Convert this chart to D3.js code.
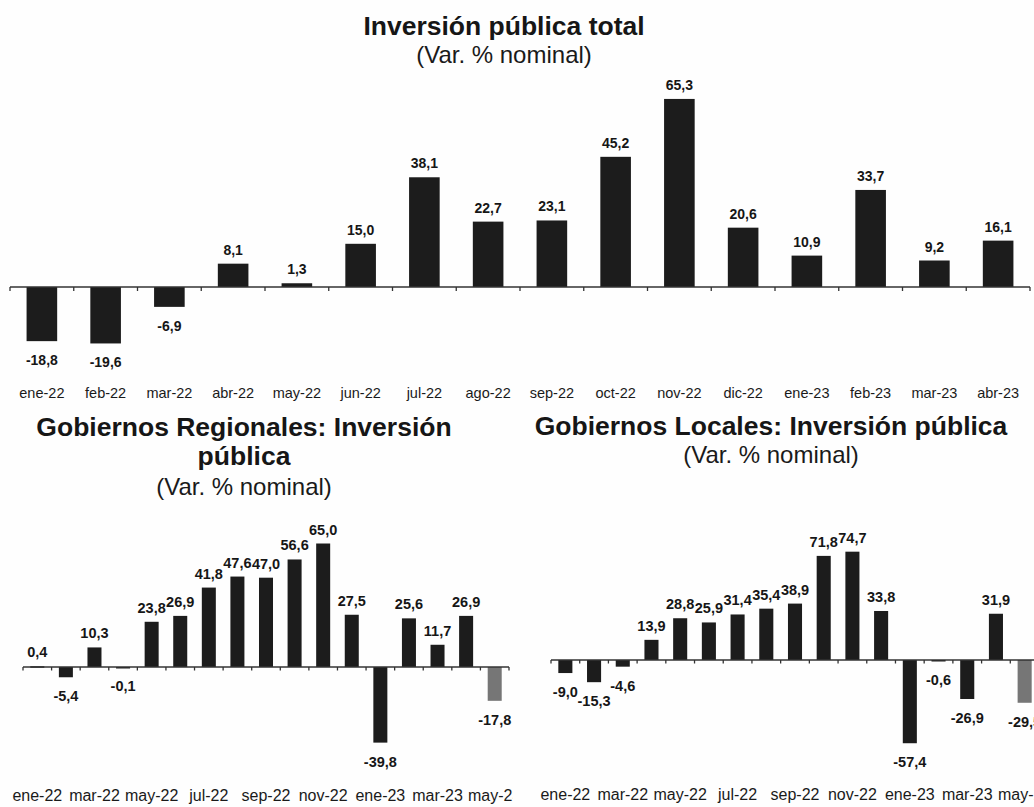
<!DOCTYPE html>
<html>
<head>
<meta charset="utf-8">
<script src="https://cdn.jsdelivr.net/npm/d3@7"></script>
<style>
body { margin: 0; background: #fff; }
svg { display: block; font-family: "Liberation Sans", Arial, sans-serif; }
</style>
</head>
<body>
<svg id="chart" width="1034" height="807"></svg>
<script>
// monthly categories
var totalMonths = ["ene-22", "feb-22", "mar-22", "abr-22", "may-22", "jun-22", "jul-22", "ago-22",
    "sep-22", "oct-22", "nov-22", "dic-22", "ene-23", "feb-23", "mar-23", "abr-23"];
var subMonths = ["ene-22", "feb-22", "mar-22", "abr-22", "may-22", "jun-22", "jul-22", "ago-22",
    "sep-22", "oct-22", "nov-22", "dic-22", "ene-23", "feb-23", "mar-23", "abr-23", "may-23"];

// % nominal variation
var totalValues = [-18.8, -19.6, -6.9, 8.1, 1.3, 15.0, 38.1, 22.7, 23.1, 45.2, 65.3, 20.6, 10.9, 33.7, 9.2, 16.1];
var regionalValues = [0.4, -5.4, 10.3, -0.1, 23.8, 26.9, 41.8, 47.6, 47.0, 56.6, 65.0, 27.5, -39.8, 25.6, 11.7, 26.9, -17.8];
var localValues = [-9.0, -15.3, -4.6, 13.9, 28.8, 25.9, 31.4, 35.4, 38.9, 71.8, 74.7, 33.8, -57.4, -0.6, -26.9, 31.9, -29.5];

// the last month of the two lower charts is drawn in grey
var previewMonth = "may-23";

var fmt = d3.formatLocale({decimal: ",", thousands: ".", grouping: [3], currency: ["", ""], minus: "-"}).format(".1f");

var svg = d3.select("#chart");

svg.append("rect").attr("width", 1034).attr("height", 807).attr("fill", "#fefefe");

svg.append("defs").append("clipPath").attr("id", "clipLeft")
    .append("rect").attr("x", 0).attr("y", 400).attr("width", 513).attr("height", 407);

function titleBlock(g, cx, lines, subY) {
    lines.forEach(function(l) {
        g.append("text")
            .attr("x", cx).attr("y", l.y)
            .attr("text-anchor", "middle")
            .style("font-size", "26.5px")
            .style("font-weight", "bold")
            .attr("fill", "#161616")
            .text(l.t);
    });
    g.append("text")
        .attr("x", cx).attr("y", subY)
        .attr("text-anchor", "middle")
        .style("font-size", "24px")
        .attr("fill", "#1a1a1a")
        .text("(Var. % nominal)");
}

function barPanel(g, months, values, o) {
    var x = d3.scaleBand().domain(months).range([o.x0, o.x1]);
    var y = d3.scaleLinear().domain(o.yDomain).range(o.yRange);
    var bw = x.bandwidth() * o.barRatio;
    var y0 = y(0);

    var data = months.map(function(m, i) { return {m: m, v: values[i]}; });

    // bars
    g.selectAll(".bar")
        .data(data)
        .enter().append("rect")
        .attr("class", "bar")
        .attr("x", function(d) { return x(d.m) + (x.bandwidth() - bw) / 2; })
        .attr("y", function(d) { return Math.min(y(d.v), y0); })
        .attr("width", bw)
        .attr("height", function(d) { return Math.max(1.5, Math.abs(y(d.v) - y0)); })
        .attr("fill", function(d) { return d.m === previewMonth && o.grey ? "#767676" : "#1c1c1c"; });

    // zero line + ticks at slot boundaries
    g.append("line")
        .attr("x1", o.x0).attr("x2", o.x1)
        .attr("y1", y0).attr("y2", y0)
        .attr("stroke", "#333").attr("stroke-width", 1.6);

    g.selectAll(".tick")
        .data(d3.range(months.length + 1))
        .enter().append("line")
        .attr("x1", function(i) { return o.x0 + i * x.step(); })
        .attr("x2", function(i) { return o.x0 + i * x.step(); })
        .attr("y1", y0).attr("y2", y0 + o.tick)
        .attr("stroke", "#333").attr("stroke-width", 1.3);

    // value labels
    g.selectAll(".val")
        .data(data)
        .enter().append("text")
        .attr("class", "val")
        .attr("x", function(d) { return x(d.m) + x.bandwidth() / 2; })
        .attr("y", function(d) { return d.v >= 0 ? y(d.v) - o.above : y(d.v) + o.below; })
        .attr("text-anchor", "middle")
        .style("font-size", o.valSize)
        .style("font-weight", "bold")
        .attr("fill", "#161616")
        .text(function(d) { return fmt(d.v); });

    // category labels
    g.selectAll(".cat")
        .data(data.filter(function(d, i) { return i % o.every === 0; }))
        .enter().append("text")
        .attr("class", "cat")
        .attr("x", function(d) { return x(d.m) + x.bandwidth() / 2; })
        .attr("y", o.catY)
        .attr("text-anchor", "middle")
        .style("font-size", o.catSize)
        .attr("fill", "#1a1a1a")
        .text(function(d) { return d.m; });
}

// top: total
var gTop = svg.append("g");
titleBlock(gTop, 504, [{t: "Inversión pública total", y: 35}], 63);
barPanel(gTop, totalMonths, totalValues, {
    x0: 10, x1: 1030, yDomain: [-20, 70], yRange: [344.6, 85.4],
    barRatio: 0.48, tick: 4, above: 9, below: 24, valSize: "14px",
    every: 1, catY: 398, catSize: "14.5px", grey: false
});

// bottom left: regional governments
var gLeft = svg.append("g").attr("clip-path", "url(#clipLeft)");
titleBlock(gLeft, 244, [{t: "Gobiernos Regionales: Inversión", y: 436}, {t: "pública", y: 465}], 495);
barPanel(gLeft, subMonths, regionalValues, {
    x0: 23, x1: 509, yDomain: [-40, 70], yRange: [743, 534],
    barRatio: 0.49, tick: 3.5, above: 9, below: 24, valSize: "14.5px",
    every: 2, catY: 801, catSize: "16px", grey: true
});

// bottom right: local governments
var gRight = svg.append("g");
titleBlock(gRight, 771, [{t: "Gobiernos Locales: Inversión pública", y: 435}], 463);
barPanel(gRight, subMonths, localValues, {
    x0: 551, x1: 1039, yDomain: [-60, 80], yRange: [747, 544],
    barRatio: 0.49, tick: 3.5, above: 9, below: 24, valSize: "14.5px",
    every: 2, catY: 800, catSize: "16px", grey: true
});
</script>
</body>
</html>
